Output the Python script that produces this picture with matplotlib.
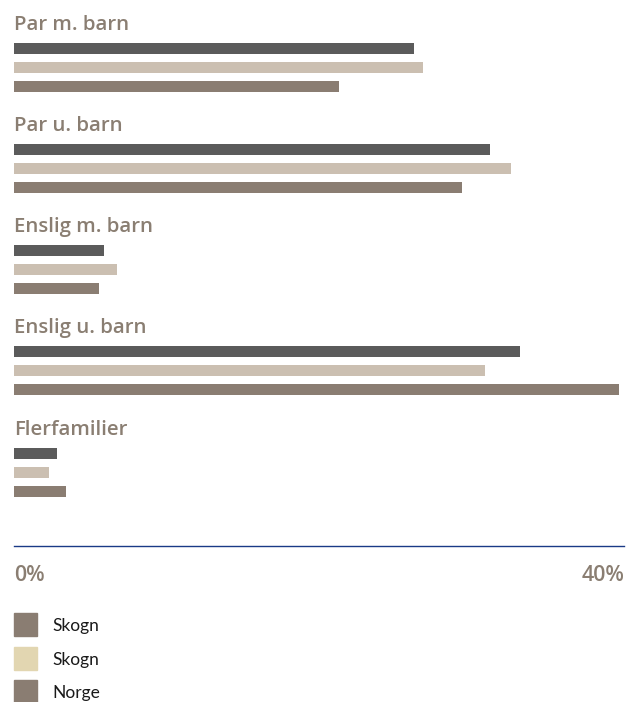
import matplotlib
matplotlib.use("Agg")
import matplotlib.pyplot as plt
from matplotlib.patches import Rectangle

categories = ["Par m. barn", "Par u. barn", "Enslig m. barn", "Enslig u. barn", "Flerfamilier"]
series_names = ["Skogn", "Skogn", "Norge"]
series_a = [26.2, 31.2, 5.9, 33.2, 2.8]   # dark grey bars
series_b = [26.8, 32.6, 6.75, 30.9, 2.3]  # light beige bars
series_c = [21.3, 29.4, 5.6, 39.7, 3.4]   # brown bars
tick_values = [0, 40]
tick_labels = ["0%", "40%"]

bar_colors = ["#5b5b5b", "#cbbfb1", "#8a7d72"]
legend_colors = ["#8a7d72", "#e2d6b1", "#8a7d72"]
label_color = "#8a7e72"

W, H = 628, 702
fig = plt.figure(figsize=(W / 100, H / 100), dpi=100)

# axes spanning pixel x 14..624, pixel y 0..546 (bottom spine = blue rule)
ax = fig.add_axes([14 / W, 1 - 546 / H, 610 / W, 546 / H])
ax.set_xlim(0, 40)
ax.set_ylim(546, 0)

group_start = 48
group_step = 101.3
bar_step = 19
bar_h = 11

all_series = [series_a, series_b, series_c]
for j, vals in enumerate(all_series):
    ys = [group_start + g * group_step + j * bar_step for g in range(len(categories))]
    ax.barh(ys, vals, height=bar_h, color=bar_colors[j], left=0)

for g, cat in enumerate(categories):
    ax.text(0, group_start + g * group_step - 18.5, cat, ha="left", va="baseline",
            fontsize=14.7, fontweight="semibold", color=label_color,
            family="Open Sans")

for s in ["top", "left", "right"]:
    ax.spines[s].set_visible(False)
ax.spines["bottom"].set_color("#1a3a86")
ax.spines["bottom"].set_linewidth(1.0)
ax.set_yticks([])
ax.set_xticks(tick_values)
ax.set_xticklabels(tick_labels)
ax.tick_params(axis="x", length=0, pad=25.5, labelsize=15.5, labelcolor=label_color)
for lab, ha in zip(ax.get_xticklabels(), ["left", "right"]):
    lab.set_ha(ha)
    lab.set_va("baseline")
    lab.set_fontweight("semibold")
    lab.set_family("Open Sans")

# legend
leg_y = [624.5, 658, 691.5]
for name, col, y in zip(series_names, legend_colors, leg_y):
    fig.add_artist(Rectangle((14 / W, 1 - (y + 11.5) / H), 23 / W, 23 / H,
                             transform=fig.transFigure, color=col))
    fig.text(52 / W, 1 - y / H, name, ha="left", va="center_baseline", fontsize=12.5,
             color="#1a1a1a", family="Lato")

fig.savefig("out.png", dpi=100)
